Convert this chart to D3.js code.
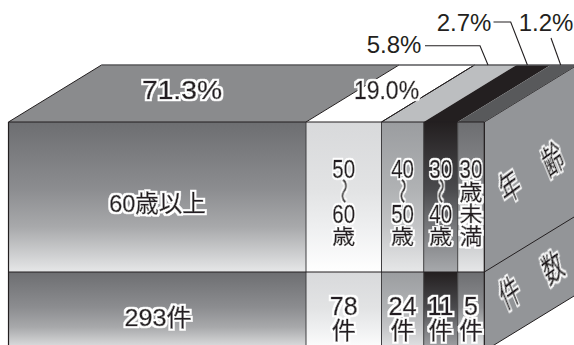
<!DOCTYPE html>
<html lang="ja">
<head>
<meta charset="utf-8">
<style>
  html, body { margin: 0; padding: 0; background: #fff; overflow: hidden; }
  svg { display: block; }
  text { font-family: "Liberation Sans", "Noto Sans CJK JP", sans-serif; fill: #231f20; }
  .halo { stroke: #231f20; stroke-width: 0.5px; filter: url(#whiteHalo); }
</style>
<script src="https://cdn.jsdelivr.net/npm/d3@7"></script>
</head>
<body>
<svg id="chart" width="574" height="345"></svg>
<script>
// Survey breakdown by age group
const categories = ["60歳以上", "50〜60歳", "40〜50歳", "30〜40歳", "30歳未満"];
const shares = [71.3, 19.0, 5.8, 2.7, 1.2];
const shareLabels = ["71.3%", "19.0%", "5.8%", "2.7%", "1.2%"];
const counts = [293, 78, 24, 11, 5];
const rows = ["年齢", "件数"];

// Face colours for each age group: top face, front gradient stops
const topColors = ["#8a8b8d", "#ffffff", "#bcbec0", "#231f20", "#58595b"];
const frontColors = [
  ["#6d6e71", "#8c8d90", "#a8a9ab", "#e6e7e8"],
  ["#d8d9db", "#e2e3e4", "#eeeff0", "#ffffff"],
  ["#9b9da0", "#b0b2b4", "#c4c5c7", "#e6e7e8"],
  ["#231f20", "#4a4a4d", "#77787b", "#a7a9ac"],
  ["#6d6e71", "#8c8d90", "#bcbec0", "#e6e7e8"]
];
const sideColor = "#939598";
const ink = "#231f20";

const svg = d3.select("#chart");
const defs = svg.append("defs");

// White outline around captions, grown from the glyph shape
const halo = defs.append("filter").attr("id", "whiteHalo")
  .attr("x", "-20%").attr("y", "-20%").attr("width", "140%").attr("height", "140%");
halo.append("feMorphology").attr("in", "SourceAlpha").attr("operator", "dilate")
  .attr("radius", 1.7).attr("result", "grown");
halo.append("feFlood").attr("flood-color", "#fff").attr("result", "paper");
halo.append("feComposite").attr("in", "paper").attr("in2", "grown")
  .attr("operator", "in").attr("result", "outline");
const haloMerge = halo.append("feMerge");
haloMerge.append("feMergeNode").attr("in", "outline");
haloMerge.append("feMergeNode").attr("in", "SourceGraphic");

// Box geometry: widths are compressed for the large groups, so the share
// axis is a piecewise scale over cumulative percentages.
const cumulative = [0, ...d3.cumsum(shares)];
const x = d3.scaleLinear()
  .domain(cumulative)
  .range([8.5, 306, 381.5, 423.7, 457.7, 484.3]);
const rowY = d3.scaleOrdinal().domain(rows).range([122, 272]);
const frontBottom = 351;
const depthX = 93, depthY = 57;
const rowBottom = r => r === rows[0] ? rowY(rows[1]) : frontBottom;

const poly = pts => d3.line()(pts) + "Z";

// Front gradients
frontColors.forEach((stops, i) => {
  const g = defs.append("linearGradient")
    .attr("id", `front${i}`).attr("x1", 0).attr("x2", 0).attr("y1", 0).attr("y2", 1);
  [0, 0.45, 0.7, 1].forEach((o, k) =>
    g.append("stop").attr("offset", o).attr("stop-color", stops[k]));
});

const segs = shares.map((s, i) => ({ i, x0: x(cumulative[i]), x1: x(cumulative[i + 1]) }));
const topY = rowY(rows[0]);
const xEnd = x(100);

// Side face
svg.append("path")
  .attr("d", poly([[xEnd, topY], [xEnd + depthX, topY - depthY], [xEnd + depthX, frontBottom - depthY], [xEnd, frontBottom]]))
  .attr("fill", sideColor).attr("stroke", ink).attr("stroke-width", 1);
svg.append("line")
  .attr("x1", xEnd).attr("y1", rowY(rows[1]))
  .attr("x2", xEnd + depthX).attr("y2", rowY(rows[1]) - depthY)
  .attr("stroke", ink).attr("stroke-width", 1);

// Top faces
svg.selectAll(".top").data(segs).join("path")
  .attr("d", d => poly([[d.x0, topY], [d.x1, topY], [d.x1 + depthX, topY - depthY], [d.x0 + depthX, topY - depthY]]))
  .attr("fill", d => topColors[d.i]);
svg.selectAll(".seam").data(segs.slice(0, 3)).join("line")
  .attr("x1", d => d.x0).attr("y1", topY)
  .attr("x2", d => d.x0 + depthX).attr("y2", topY - depthY)
  .attr("stroke", ink).attr("stroke-width", 1);
svg.append("line")
  .attr("x1", segs[1].x1).attr("y1", topY)
  .attr("x2", segs[1].x1 + depthX).attr("y2", topY - depthY)
  .attr("stroke", ink).attr("stroke-width", 1);
svg.append("line")
  .attr("x1", x(0) + depthX).attr("y1", topY - depthY)
  .attr("x2", xEnd + depthX).attr("y2", topY - depthY)
  .attr("stroke", "#58595b").attr("stroke-width", 1.4);

// Front faces, one band per row
rows.forEach(r => {
  svg.append("g").selectAll("rect").data(segs).join("rect")
    .attr("x", d => d.x0).attr("y", rowY(r))
    .attr("width", d => d.x1 - d.x0).attr("height", rowBottom(r) - rowY(r))
    .attr("fill", d => `url(#front${d.i})`);
});
svg.append("g").selectAll("line").data(x.domain().slice(1, -1)).join("line")
  .attr("x1", d => x(d)).attr("x2", d => x(d))
  .attr("y1", topY).attr("y2", frontBottom)
  .attr("stroke", "#414042").attr("stroke-width", 1);
[x(0), xEnd].forEach(v => svg.append("line")
  .attr("x1", v).attr("x2", v).attr("y1", topY).attr("y2", frontBottom)
  .attr("stroke", ink).attr("stroke-width", 1.2));
rows.forEach(r => svg.append("line")
  .attr("x1", x(0)).attr("x2", xEnd).attr("y1", rowY(r)).attr("y2", rowY(r))
  .attr("stroke", ink).attr("stroke-width", 1.2));

// Stretched text helper: anchored at the middle, scaled by sx and sy
function label(str, cx, y, size, sx = 1, outlined = true, sy = 1) {
  return svg.append("text")
    .attr("class", outlined ? "halo" : null)
    .attr("text-anchor", "middle")
    .attr("font-size", size)
    .attr("transform", `translate(${cx},${y}) scale(${sx},${sy})`)
    .text(str);
}
const mid = i => (segs[i].x0 + segs[i].x1) / 2;

// Percentages on the top face
label(shareLabels[0], 182, 99, 25, 1.13);
label(shareLabels[1], 386.5, 99, 25, 0.92);
label(shareLabels[2], 394, 53, 24, 1, false);
label(shareLabels[3], 464, 31, 24, 1, false);
label(shareLabels[4], 546, 31, 24, 1, false);

// Leader lines from the outer percentages to the back edge
const backY = topY - depthY;
const leaders = [
  [[425, 45.7], [480, 45.7], [x(cumulative[2]) + depthX + 13.5, backY]],
  [[493.5, 22], [510.7, 22], [x(cumulative[3]) + depthX + 10.7, backY]],
  [[551, 38], [x(cumulative[4]) + depthX + 10, backY]]
];
svg.selectAll(".leader").data(leaders).join("path")
  .attr("d", d3.line()).attr("fill", "none")
  .attr("stroke", ink).attr("stroke-width", 1.1);

// Age row captions, stacked vertically inside the narrow bands
label(categories[0], 157.5, 212, 24, 0.98);
const wave = (cx, y) => svg.append("text")
  .attr("class", "halo").attr("text-anchor", "middle").attr("font-size", 26)
  .attr("transform", `translate(${cx},${y}) rotate(90) scale(1,0.7)`)
  .text("〜");
[["50", "60"], ["40", "50"], ["30", "40"]].forEach(([a, b], k) => {
  const cx = mid(k + 1);
  label(a, cx, 178, 25, 0.82);
  wave(cx - 6.5, 191);
  label(b, cx, 222.5, 25, 0.82);
  label("歳", cx, 244, 23, 1, true, 0.88);
});
const lastAge = mid(4);
label("30", lastAge, 178, 25, 0.82);
["歳", "未", "満"].forEach((c, k) => label(c, lastAge, 199.5 + k * 22, 23, 1, true, 0.95));

// Count row captions
label(`${counts[0]}件`, 158, 326, 24, 1.05);
counts.slice(1).forEach((c, k) => {
  const cx = mid(k + 1) + (k === 2 ? -0.3 : 0);
  label(String(c), cx, 315, 25, k === 1 ? 1.02 : 1);
  label("件", cx, 339, 24, 1);
});

// Row names printed obliquely on the side face
const oblique = (c, cx, cy) => svg.append("text")
  .attr("class", "halo").attr("text-anchor", "middle").attr("font-size", 26)
  .attr("transform", `translate(${cx},${cy}) matrix(0.68,-0.5,0.45,1.12,0,0)`)
  .attr("dy", "0.36em")
  .text(c);
oblique(rows[0][0], 510, 187);
oblique(rows[0][1], 553, 160);
oblique(rows[1][0], 510, 293);
oblique(rows[1][1], 553, 268);
</script>
</body>
</html>
